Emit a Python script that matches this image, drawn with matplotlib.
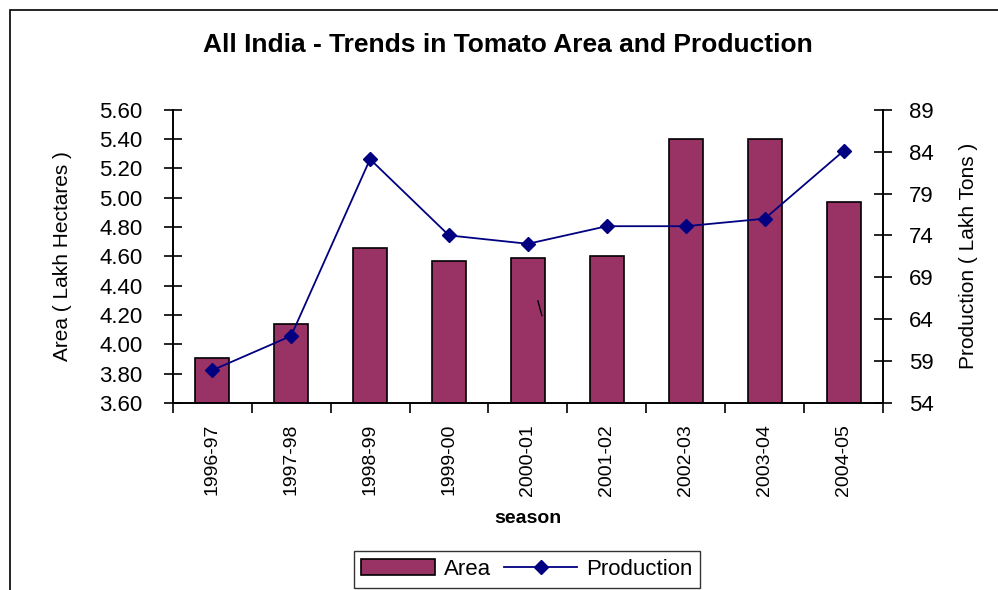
import numpy as np
import matplotlib.pyplot as plt
from matplotlib.patches import Rectangle
from matplotlib.lines import Line2D

plt.rcParams['font.family'] = ['Liberation Sans', 'DejaVu Sans']

seasons = ['1996-97', '1997-98', '1998-99', '1999-00', '2000-01',
           '2001-02', '2002-03', '2003-04', '2004-05']
area = [3.91, 4.14, 4.66, 4.57, 4.59, 4.60, 5.40, 5.40, 4.97]
production = [57.9, 62.0, 83.1, 74.0, 73.0, 75.1, 75.1, 76.0, 84.1]

bar_color = '#993366'
line_color = '#000080'

fig = plt.figure(figsize=(9.98, 5.90), dpi=100)
ax = fig.add_axes([0.173, 0.317, 0.712, 0.497])
ax2 = ax.twinx()

x = np.arange(len(seasons))
ax.bar(x, area, width=0.43, color=bar_color, edgecolor='black', linewidth=1.2,
       label='Area', zorder=2)
ax2.plot(x, production, color=line_color, marker='D', markersize=7, linewidth=1.3,
         label='Production')

ax.set_xlim(-0.5, len(seasons) - 0.5)
ax.set_ylim(3.6, 5.6)
ax.set_yticks(np.arange(3.6, 5.61, 0.2))
ax.set_yticklabels(['%.2f' % v for v in np.arange(3.6, 5.61, 0.2)], fontsize=16)
ax2.set_ylim(54, 89)
ax2.set_yticks(range(54, 90, 5))
ax2.tick_params(axis='y', labelsize=16, direction='inout', length=13, width=1.2, pad=12)
ax.tick_params(axis='y', direction='inout', length=13, width=1.2, pad=15)

# ticks on category boundaries, labels centred
ax.set_xticks(np.arange(-0.5, len(seasons), 1.0))
ax.set_xticklabels([])
ax.set_xticks(x, minor=True)
ax.set_xticklabels(seasons, minor=True, rotation=90, fontsize=14)
ax.tick_params(axis='x', which='major', direction='out', length=7, width=1.2)
ax.tick_params(axis='x', which='minor', length=0, pad=15)

for a in (ax, ax2):
    a.spines['top'].set_visible(False)
    for s in ('left', 'right', 'bottom'):
        a.spines[s].set_linewidth(1.2)

ax.set_xlabel('season', fontsize=14, fontweight='bold', labelpad=10)
ax.set_ylabel('Area ( Lakh Hectares )', fontsize=15, labelpad=20)
ax2.set_ylabel('Production ( Lakh Tons )', fontsize=15, labelpad=18)

fig.text(0.509, 0.924, 'All India - Trends in Tomato Area and Production',
         ha='center', va='center', fontsize=19, fontweight='bold')

# stray mark inside one bar, as in the source picture
fig.add_artist(Line2D([0.539, 0.543], [0.49, 0.465], color='black', linewidth=1))

h1, l1 = ax.get_legend_handles_labels()
h2, l2 = ax2.get_legend_handles_labels()
fig.legend(h1 + h2, l1 + l2, loc='center', bbox_to_anchor=(0.528, 0.035),
           ncol=2, fontsize=16, frameon=True, fancybox=False, edgecolor='black',
           handlelength=3.3, columnspacing=0.6, handletextpad=0.4,
           borderpad=0.35)

# outer chart border (cut off at right and bottom like the source)
fig.add_artist(Rectangle((0.010, -0.1), 1.2, 1.083, transform=fig.transFigure,
                         fill=False, edgecolor='black', linewidth=1.2))

fig.savefig('out.png', dpi=100)
